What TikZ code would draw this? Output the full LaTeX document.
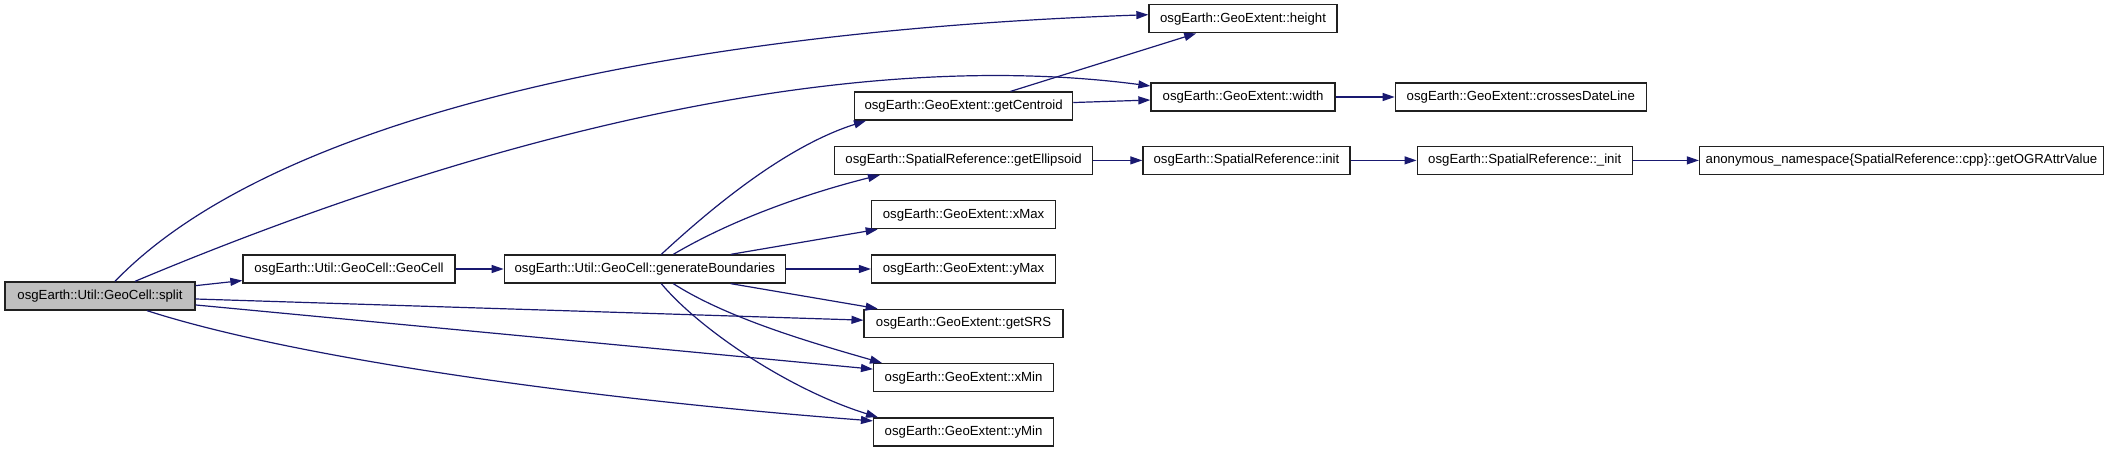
\documentclass[tikz,border=0pt]{standalone}
\usepackage{fontspec}
\setmainfont{Liberation Sans}
\usetikzlibrary{positioning,arrows.meta}
\definecolor{callblue}{HTML}{191970}
\definecolor{boxline}{HTML}{202020}
\definecolor{rootgray}{HTML}{BFBFBF}

\begin{document}
\begin{tikzpicture}[
          x=1pt,y=-1pt,
          node distance=25pt and 48pt,
          fn/.style={rectangle,draw=boxline,line width=1.3pt,minimum height=28pt,inner sep=0pt,font=\fontsize{13.2}{15}\selectfont},
          root/.style={fn,fill=rootgray},
          call/.style={draw=callblue,line width=1.2pt,-{Triangle[length=12pt,width=8pt]}}
        ]
        \useasboundingbox (0,0) rectangle (2109,449);
        \node[root,minimum width=190pt] (split) at (100,296) {osgEarth::Util::GeoCell::split};
        \node[fn,minimum width=212pt] (geocell) at (349,269) {osgEarth::Util::GeoCell::GeoCell};
        \node[fn,minimum width=281pt,right=48pt of geocell] (genbounds) {osgEarth::Util::GeoCell::generateBoundaries};
        \node[fn,minimum width=184pt,right=85pt of genbounds] (ymax) {osgEarth::GeoExtent::yMax};
        \node[fn,minimum width=184pt,above=of ymax] (xmax) {osgEarth::GeoExtent::xMax};
        \node[fn,minimum width=258pt,above=of xmax] (ellipsoid) {osgEarth::SpatialReference::getEllipsoid};
        \node[fn,minimum width=218pt,above=of ellipsoid] (centroid) {osgEarth::GeoExtent::getCentroid};
        \node[fn,minimum width=199pt,below=of ymax] (getsrs) {osgEarth::GeoExtent::getSRS};
        \node[fn,minimum width=180pt,below=of getsrs] (xmin) {osgEarth::GeoExtent::xMin};
        \node[fn,minimum width=180pt,below=of xmin] (ymin) {osgEarth::GeoExtent::yMin};
        \node[fn,minimum width=207pt,right=49pt of ellipsoid] (srinit) {osgEarth::SpatialReference::init};
        \node[fn,minimum width=215pt,right=66pt of srinit] (srinitu) {osgEarth::SpatialReference::\_init};
        \node[fn,minimum width=404pt,right=66pt of srinitu] (ograttr) {anonymous\_namespace\{SpatialReference::cpp\}::getOGRAttrValue};
        \node[fn,minimum width=184pt] (width) at (1243,97) {osgEarth::GeoExtent::width};
        \node[fn,minimum width=251pt,right=59pt of width] (dateline) {osgEarth::GeoExtent::crossesDateLine};
        \node[fn,minimum width=188pt,above=49pt of width] (height) {osgEarth::GeoExtent::height};
        \draw[call] ([xshift=15pt]split.north) .. controls (280,110) and (700,30) .. ([yshift=4pt]height.west);
        \draw[call] ([xshift=35pt]split.north) .. controls (400,170) and (800,40) .. ([yshift=11pt]width.west);
        \draw[call] (split) -- (geocell);
        \draw[call] (split) -- (getsrs);
        \draw[call] (split) -- (xmin);
        \draw[call] ([xshift=47pt]split.south) .. controls (300,360) and (600,400) .. ([yshift=11pt]ymin.west);
        \draw[call] (geocell) -- (genbounds);
        \draw[call] ([xshift=16.5pt]genbounds.north) .. controls (720,200) and (790,145) .. ([xshift=12pt]centroid.south west);
        \draw[call] ([xshift=28.5pt]genbounds.north) .. controls (740,215) and (820,190) .. ([xshift=46pt]ellipsoid.south west);
        \draw[call] (genbounds) -- (xmax);
        \draw[call] (genbounds) -- (ymax);
        \draw[call] (genbounds) -- (getsrs);
        \draw[call] ([xshift=28.5pt]genbounds.south) .. controls (730,320) and (820,345) .. ([xshift=9pt]xmin.north west);
        \draw[call] ([xshift=16.5pt]genbounds.south) .. controls (700,330) and (790,390) .. ([xshift=5pt]ymin.north west);
        \draw[call] (centroid) -- (height);
        \draw[call] (centroid) -- (width);
        \draw[call] (width) -- (dateline);
        \draw[call] (ellipsoid) -- (srinit);
        \draw[call] (srinit) -- (srinitu);
        \draw[call] (srinitu) -- (ograttr);
      \end{tikzpicture}
\end{document}
